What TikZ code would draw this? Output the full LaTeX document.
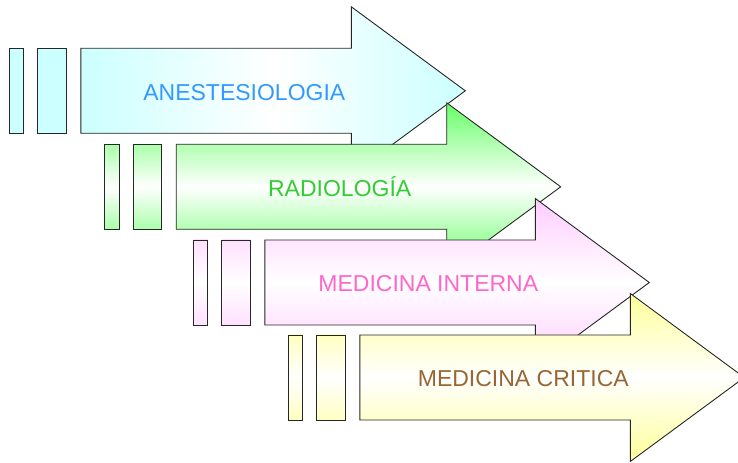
\documentclass[tikz,border=0pt]{standalone}
\usepackage{fontspec}
\setmainfont{Liberation Sans}

\definecolor{anestfill}{RGB}{204,255,255}
\definecolor{radiofill}{RGB}{102,255,102}
\definecolor{medintfill}{RGB}{255,204,255}
\definecolor{medcritfill}{RGB}{255,255,153}
\definecolor{anesttext}{RGB}{51,153,255}
\definecolor{radiotext}{RGB}{51,204,51}
\definecolor{medinttext}{RGB}{255,102,204}
\definecolor{medcrittext}{RGB}{153,102,51}

\tikzset{
  outline/.style={draw=black!85, line width=0.9bp},
  stagetext/.style={font=\fontsize{23bp}{27bp}\selectfont, anchor=base, inner sep=0pt}
}

\begin{document}
\begin{tikzpicture}[x=1bp, y=-1bp]
\clip (0,0) rectangle (738,463);

% rect left / shaft top / fill / shading angle / bar mix / bar middle / name / text colour / text
\foreach \r/\t/\col/\ang/\rmix/\rmid/\nm/\tcol/\txt in {
    9.3/48.3/anestfill/90/100/anestfill/anest/anesttext/ANESTESIOLOGIA,
    104.7/144.3/radiofill/0/55/white/radio/radiotext/RADIOLOGÍA,
    193.3/240/medintfill/0/60/white/medint/medinttext/MEDICINA INTERNA,
    288.3/335/medcritfill/0/60/white/medcrit/medcrittext/MEDICINA CRITICA}
{
  \draw[outline, top color=\col!\rmix, bottom color=\col!\rmix, middle color=\rmid]
    (\r,\t) rectangle ++(14.5,85);
  \draw[outline, top color=\col!\rmix, bottom color=\col!\rmix, middle color=\rmid]
    (\r+28.5,\t) rectangle ++(28.5,85);
  \draw[outline, top color=\col, bottom color=\col, middle color=white, shading angle=\ang]
    (\r+71.5,\t) -- (\r+342,\t) -- (\r+342,\t-41.5) -- (\r+456,\t+42.5)
    -- (\r+342,\t+126.5) -- (\r+342,\t+85) -- (\r+71.5,\t+85) -- cycle;
  \node[stagetext, text=\tcol] (\nm) at (\r+235,\t+51.8) {\txt};
}
\end{tikzpicture}
\end{document}
